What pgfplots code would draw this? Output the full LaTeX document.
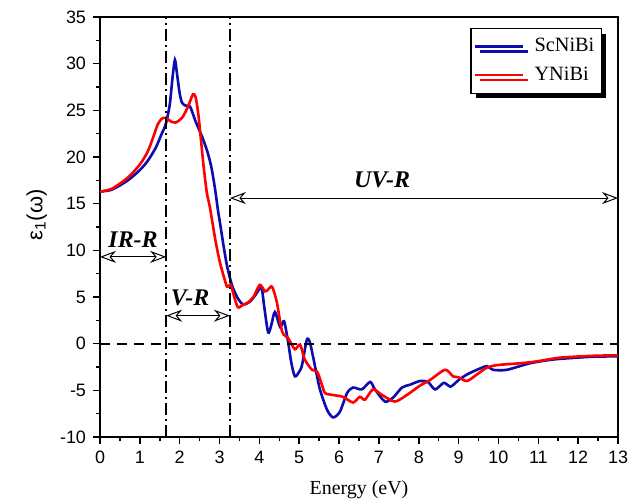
\documentclass[border=0pt]{standalone}
\usepackage{fontspec}
\setmainfont{Liberation Serif}
\newfontfamily\arial{Liberation Sans}
\usepackage{pgfplots}
\pgfplotsset{compat=1.18}
\usetikzlibrary{arrows.meta,shadows}

\definecolor{scblue}{RGB}{12,12,175}
\definecolor{yred}{RGB}{255,0,0}

\begin{document}
\begin{tikzpicture}
\begin{axis}[
    width=259bp, height=210bp, scale only axis,
    xmin=0, xmax=13, ymin=-10, ymax=35,
    xtick={0,...,13}, ytick={-10,-5,...,35},
    minor x tick num=1, minor y tick num=1,
    tick align=outside, xtick pos=bottom, ytick pos=left,
    major tick length=3.5bp, minor tick length=2bp,
    axis line style={line width=1bp},
    tick style={line width=0.8bp, black},
    ticklabel style={font=\arial\fontsize{9}{10}\selectfont},
    /pgf/number format/assume math mode=true,
    xlabel={Energy (eV)},
    xlabel style={font=\fontsize{10}{12}\selectfont, at={(axis description cs:0.5,-0.126)}, anchor=center},
    ylabel={\arial ε\textsubscript{1}(ω)},
    ylabel style={font=\fontsize{11}{13}\selectfont, at={(axis description cs:-0.122,0.529)}, anchor=center},
    legend style={at={(rel axis cs:0.969,0.974)}, anchor=north east,
        draw=black, line width=0.6bp, fill=white,
        font=\fontsize{10.2}{12}\selectfont,
        drop shadow={shadow xshift=2.5bp, shadow yshift=-2.5bp, opacity=1, fill=black},
        inner xsep=1.5bp, inner ysep=3bp, row sep=2bp},
    legend cell align=left,
    legend image code/.code={\draw[#1] (0bp,0bp) -- (24bp,0bp); \path (27bp,0bp);},
]
\addplot[scblue, line width=1.3bp, smooth, tension=0.45] coordinates {
(0,16.3) (0.3,16.5) (0.7,17.5) (1.0,18.6) (1.2,19.6) (1.4,21.0) (1.55,22.5)
(1.65,23.5) (1.75,25.6) (1.82,28.5) (1.88,30.4) (1.93,29.0) (2.0,26.8) (2.06,25.8)
(2.15,25.5) (2.26,25.4) (2.4,23.8) (2.56,22.2) (2.7,20.5) (2.8,18.8) (2.89,16.5)
(2.96,14.3) (3.01,13.0) (3.1,10.5) (3.19,8.3) (3.31,6.3) (3.44,5.0) (3.59,4.2)
(3.76,4.5) (3.9,5.2) (4.05,6.0) (4.12,4.0) (4.22,1.2) (4.3,2.0) (4.39,3.4)
(4.52,1.8) (4.62,2.4) (4.72,0.2) (4.8,-2.0) (4.89,-3.5) (5.0,-3.0) (5.07,-2.3)
(5.19,0.4) (5.27,0.1) (5.4,-2.5) (5.52,-4.9) (5.7,-7.1) (5.85,-7.9) (6.02,-7.3)
(6.2,-5.3) (6.35,-4.7) (6.57,-4.9) (6.78,-4.1) (6.9,-4.9) (7.15,-6.2) (7.35,-5.8)
(7.58,-4.7) (7.78,-4.4) (8.03,-4.0) (8.23,-4.1) (8.41,-4.9) (8.63,-4.2) (8.8,-4.6)
(9.0,-3.9) (9.21,-3.3) (9.46,-2.8) (9.71,-2.4) (9.86,-2.8) (10.21,-2.8) (10.79,-2.1)
(11.37,-1.7) (11.97,-1.5) (12.37,-1.4) (13,-1.35)
};
\addlegendentry{ScNiBi}
\addplot[yred, line width=1.3bp, smooth, tension=0.45] coordinates {
(0,16.3) (0.3,16.6) (0.7,17.8) (1.0,19.2) (1.2,20.6) (1.35,22.3) (1.45,23.5)
(1.55,24.1) (1.65,24.2) (1.78,23.8) (1.9,23.7) (2.06,24.2) (2.21,25.4) (2.33,26.7)
(2.4,26.4) (2.47,24.5) (2.53,22.0) (2.6,19.0) (2.68,16.2) (2.75,14.8) (2.81,13.3)
(2.9,11.0) (3.01,8.7) (3.12,7.0) (3.19,6.1) (3.28,6.3) (3.35,5.3) (3.46,3.9)
(3.6,4.2) (3.71,4.4) (3.85,5.0) (4.01,6.3) (4.14,5.6) (4.22,5.8) (4.32,6.1)
(4.44,4.4) (4.57,1.3) (4.72,0.6) (4.89,-0.6) (5.02,-0.1) (5.14,-1.7) (5.32,-2.8)
(5.45,-3.0) (5.57,-4.4) (5.65,-5.3) (5.85,-5.5) (6.1,-5.7) (6.35,-6.3) (6.52,-5.7)
(6.65,-6.0) (6.85,-4.9) (7.08,-5.5) (7.4,-6.2) (7.7,-5.5) (8.03,-4.5) (8.28,-3.9)
(8.66,-2.8) (8.86,-3.5) (9.0,-3.6) (9.21,-4.0) (9.46,-3.3) (9.7,-2.6) (9.96,-2.3)
(10.54,-2.1) (10.96,-1.9) (11.54,-1.5) (12.37,-1.3) (13,-1.25)
};
\addlegendentry{YNiBi}

% reference lines
\draw[black, line width=0.9bp, dash pattern=on 5bp off 3.5bp] (axis cs:0,0) -- (axis cs:13,0);
\draw[black, line width=0.8bp, dash pattern=on 6bp off 2bp on 1bp off 2bp] (axis cs:1.66,-10) -- (axis cs:1.66,35);
\draw[black, line width=0.8bp, dash pattern=on 6bp off 2bp on 1bp off 2bp] (axis cs:3.26,-10) -- (axis cs:3.26,35);

% region arrows
\draw[line width=0.5bp, {Stealth[open,length=8bp,width=6bp]}-{Stealth[open,length=8bp,width=6bp]}] (axis cs:0,9.3) -- (axis cs:1.66,9.3);
\draw[line width=0.5bp, {Stealth[open,length=8bp,width=6bp]}-{Stealth[open,length=8bp,width=6bp]}] (axis cs:1.66,3.0) -- (axis cs:3.26,3.0);
\draw[line width=0.5bp, {Stealth[open,length=8bp,width=6bp]}-{Stealth[open,length=8bp,width=6bp]}] (axis cs:3.26,15.6) -- (axis cs:13,15.6);
\node[font=\fontsize{12}{14}\selectfont\bfseries\itshape] at (axis cs:0.83,11.1) {IR-R};
\node[font=\fontsize{12}{14}\selectfont\bfseries\itshape] at (axis cs:2.26,4.9) {V-R};
\node[font=\fontsize{12}{14}\selectfont\bfseries\itshape] at (axis cs:7.08,17.5) {UV-R};
\end{axis}
\pgfresetboundingbox
\path[use as bounding box] ([shift={(-50bp,-33.5bp)}]current axis.south west) rectangle ([shift={(11bp,8.5bp)}]current axis.north east);
\end{tikzpicture}
\end{document}
